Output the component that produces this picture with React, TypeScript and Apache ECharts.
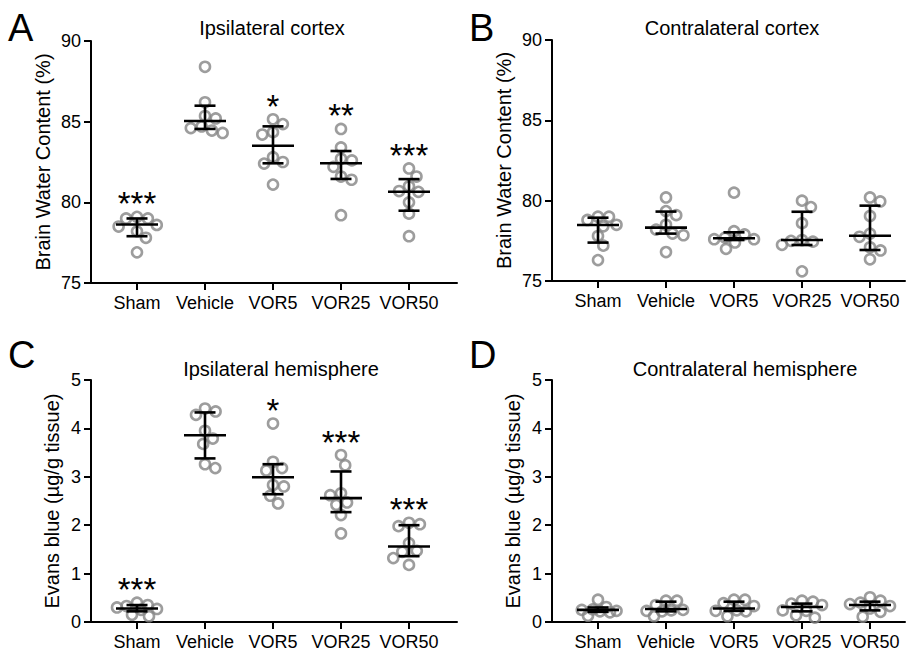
import React, { useEffect, useRef } from "react";
import * as echarts from "echarts";

const categories = ["Sham", "Vehicle", "VOR5", "VOR25", "VOR50"];

// Panel A: Ipsilateral cortex, brain water content (%)
const shamA = [79.1, 78.5, 79.0, 79.0, 78.2, 78.6, 77.8, 76.9];
const vehicleA = [88.4, 86.2, 85.2, 85.35, 84.7, 84.3, 84.45, 84.6];
const vor5A = [85.15, 84.85, 84.35, 84.2, 82.8, 82.4, 82.5, 81.1];
const vor25A = [84.55, 83.4, 82.7, 82.6, 82.2, 81.6, 81.4, 79.2];
const vor50A = [82.1, 81.6, 81.0, 80.7, 80.65, 80.0, 79.3, 77.9];
const medianA = [78.63, 85.04, 83.51, 82.42, 80.66];
const q1A = [77.9, 84.55, 82.42, 81.45, 79.48];
const q3A = [79.0, 85.99, 84.71, 83.18, 81.44];
const starsA = ["***", "", "*", "**", "***"];

// Panel B: Contralateral cortex
const shamB = [78.8, 79.0, 79.0, 78.4, 78.5, 77.8, 77.2, 76.3];
const vehicleB = [80.2, 79.1, 79.35, 78.5, 78.2, 77.95, 77.85, 76.8];
const vor5B = [80.5, 78.1, 77.9, 77.4, 77.6, 77.6, 77.7, 77.0];
const vor25B = [80.0, 79.6, 78.6, 77.55, 77.5, 77.25, 77.45, 75.6];
const vor50B = [80.2, 79.95, 79.05, 77.75, 77.95, 77.1, 76.9, 76.35];
const medianB = [78.49, 78.32, 77.66, 77.55, 77.82];
const q1B = [77.39, 77.95, 77.55, 77.24, 76.93];
const q3B = [78.94, 79.32, 78.03, 79.31, 79.69];
const starsB = ["", "", "", "", ""];

// Panel C: Ipsilateral hemisphere, Evans blue (µg/g tissue)
const shamC = [0.35, 0.33, 0.27, 0.4, 0.25, 0.3, 0.15, 0.12];
const vehicleC = [4.35, 4.41, 4.28, 3.95, 3.79, 3.68, 3.18, 3.26];
const vor5C = [4.1, 3.31, 3.18, 3.13, 2.83, 2.8, 2.61, 2.45];
const vor25C = [3.45, 3.24, 2.62, 2.66, 2.47, 2.42, 2.21, 1.83];
const vor50C = [2.05, 1.98, 2.02, 1.63, 1.47, 1.45, 1.32, 1.18];
const medianC = [0.28, 3.86, 2.99, 2.56, 1.56];
const q1C = [0.22, 3.38, 2.64, 2.27, 1.36];
const q3C = [0.35, 4.33, 3.26, 3.11, 2.0];
const starsC = ["***", "", "*", "***", "***"];

// Panel D: Contralateral hemisphere
const shamD = [0.23, 0.31, 0.25, 0.46, 0.22, 0.2, 0.26, 0.13];
const vehicleD = [0.44, 0.23, 0.22, 0.44, 0.35, 0.12, 0.25, 0.24];
const vor5D = [0.23, 0.33, 0.46, 0.46, 0.39, 0.12, 0.24, 0.22];
const vor25D = [0.35, 0.44, 0.42, 0.38, 0.09, 0.14, 0.23, 0.24];
const vor50D = [0.4, 0.51, 0.44, 0.37, 0.11, 0.28, 0.21, 0.33];
const medianD = [0.25, 0.27, 0.28, 0.31, 0.35];
const q1D = [0.21, 0.22, 0.23, 0.22, 0.24];
const q3D = [0.3, 0.42, 0.42, 0.38, 0.42];
const starsD = ["", "", "", "", ""];

const yTicksCortex = [75, 80, 85, 90];
const yTicksEvans = [0, 1, 2, 3, 4, 5];

const FONT = "'Liberation Sans', Arial, Helvetica, sans-serif";
const PT_COLOR = "#858585";
const DIAM = 11;
const MAX_OFF = 20;
const X_PX = 68; // px per category unit

type Panel = {
  letter: string;
  title: string;
  yName: string;
  groups: number[][];
  median: number[];
  q1: number[];
  q3: number[];
  stars: string[];
  yTicks: number[];
  left: number;
  top: number;
  width: number;
  height: number;
  nameGap: number;
};

const panels: Panel[] = [
  {
    letter: "A", title: "Ipsilateral cortex", yName: "Brain Water Content (%)",
    groups: [shamA, vehicleA, vor5A, vor25A, vor50A], median: medianA, q1: q1A, q3: q3A,
    stars: starsA, yTicks: yTicksCortex, left: 91, top: 41, width: 366, height: 242, nameGap: 38,
  },
  {
    letter: "B", title: "Contralateral cortex", yName: "Brain Water Content (%)",
    groups: [shamB, vehicleB, vor5B, vor25B, vor50B], median: medianB, q1: q1B, q3: q3B,
    stars: starsB, yTicks: yTicksCortex, left: 552, top: 40, width: 353, height: 241, nameGap: 38,
  },
  {
    letter: "C", title: "Ipsilateral hemisphere", yName: "Evans blue (µg/g tissue)",
    groups: [shamC, vehicleC, vor5C, vor25C, vor50C], median: medianC, q1: q1C, q3: q3C,
    stars: starsC, yTicks: yTicksEvans, left: 91, top: 380, width: 366, height: 242, nameGap: 29,
  },
  {
    letter: "D", title: "Contralateral hemisphere", yName: "Evans blue (µg/g tissue)",
    groups: [shamD, vehicleD, vor5D, vor25D, vor50D], median: medianD, q1: q1D, q3: q3D,
    stars: starsD, yTicks: yTicksEvans, left: 552, top: 380, width: 353, height: 242, nameGap: 29,
  },
];

// Beeswarm layout with a width limit: returns x offsets (px)
function swarm(values: number[], yPx: number, d: number, maxOff: number): number[] {
  const order = values.map((v, i) => i).sort((a, b) => values[b] - values[a]);
  const placed: { x: number; y: number }[] = [];
  const out = new Array(values.length).fill(0);
  let flip = 1;
  for (const i of order) {
    const y = values[i] * yPx;
    const cands: number[] = [0];
    for (const p of placed) {
      const dy = y - p.y;
      if (Math.abs(dy) < d) {
        const dx = Math.sqrt(d * d - dy * dy);
        cands.push(p.x + dx, p.x - dx);
      }
    }
    const valid = cands.filter((c) => Math.abs(c) <= maxOff + 1e-6);
    valid.sort((a, b) => {
      const diff = Math.abs(a) - Math.abs(b);
      if (Math.abs(diff) > 1e-6) return diff;
      return flip * (b - a);
    });
    let chosen: number | null = null;
    for (const c of valid) {
      let ok = true;
      for (const p of placed) {
        if (Math.hypot(c - p.x, y - p.y) < d - 1e-6) { ok = false; break; }
      }
      if (ok) { chosen = c; break; }
    }
    if (chosen === null) {
      // no free slot within the limit: take the least-crowded position
      let best = 0;
      let bestScore = -Infinity;
      for (let c = -maxOff; c <= maxOff; c += 1) {
        let minD = Infinity;
        for (const p of placed) minD = Math.min(minD, Math.hypot(c - p.x, y - p.y));
        const score = minD - Math.abs(c) * 0.001;
        if (score > bestScore) { bestScore = score; best = c; }
      }
      chosen = best;
    }
    if (Math.abs(chosen) > 1e-6) flip = -flip;
    placed.push({ x: chosen, y });
    out[i] = chosen;
  }
  return out;
}

function buildOption() {
  const grid: any[] = [];
  const xAxis: any[] = [];
  const yAxis: any[] = [];
  const series: any[] = [];
  const graphic: any[] = [];
  const letterPos = [
    { x: 8, y: 25 }, { x: 469, y: 25 }, { x: 8, y: 352 }, { x: 469, y: 352 },
  ];

  panels.forEach((p, k) => {
    const yMin = p.yTicks[0];
    const yMax = p.yTicks[p.yTicks.length - 1];
    const interval = p.yTicks[1] - p.yTicks[0];
    const xMin = -46 / X_PX;
    const xMax = xMin + p.width / X_PX;
    const yPx = p.height / (yMax - yMin);

    grid.push({ left: p.left, top: p.top, width: p.width, height: p.height, containLabel: false });
    xAxis.push({
      gridIndex: k, type: "value", min: xMin, max: xMax,
      axisLine: { show: true, onZero: false, lineStyle: { color: "#000", width: 2 } },
      axisTick: { show: true, length: 7, lineStyle: { color: "#000", width: 2 }, customValues: [0, 1, 2, 3, 4] },
      axisLabel: {
        show: true, customValues: [0, 1, 2, 3, 4], margin: 11,
        formatter: (v: number) => categories[Math.round(v)] ?? "",
        fontSize: 18, color: "#000", fontFamily: FONT,
      },
      splitLine: { show: false },
    });
    yAxis.push({
      gridIndex: k, type: "value", min: yMin, max: yMax, interval,
      name: p.yName, nameLocation: "middle", nameGap: p.nameGap, nameRotate: 90,
      nameTextStyle: { fontSize: 20, color: "#000", fontFamily: FONT },
      axisLine: { show: true, onZero: false, lineStyle: { color: "#000", width: 2 } },
      axisTick: { show: true, length: 7, lineStyle: { color: "#000", width: 2 } },
      axisLabel: { fontSize: 18, color: "#000", margin: 10, fontFamily: FONT },
      splitLine: { show: false },
    });

    const pts: number[][] = [];
    p.groups.forEach((vals, gi) => {
      const offs = swarm(vals, yPx, DIAM, MAX_OFF);
      vals.forEach((v, j) => pts.push([gi + offs[j] / X_PX, v]));
    });
    series.push({
      type: "scatter", xAxisIndex: k, yAxisIndex: k, data: pts,
      symbol: "circle", symbolSize: DIAM - 1,
      itemStyle: { color: "rgba(255,255,255,0)", borderColor: PT_COLOR, borderWidth: 2.6 },
      z: 2, silent: true,
    });
    series.push({
      type: "custom", xAxisIndex: k, yAxisIndex: k, z: 3, silent: true,
      data: p.median.map((m, i) => [i, m, p.q1[i], p.q3[i]]),
      encode: { x: 0, y: [1, 2, 3] },
      renderItem: (params: any, api: any) => {
        const x = api.value(0);
        const pm = api.coord([x, api.value(1)]);
        const pl = api.coord([x, api.value(2)]);
        const pu = api.coord([x, api.value(3)]);
        const st = { stroke: "#000", lineWidth: 2.6 };
        return {
          type: "group",
          children: [
            { type: "line", shape: { x1: pm[0] - 21, y1: pm[1], x2: pm[0] + 21, y2: pm[1] }, style: st },
            { type: "line", shape: { x1: pu[0] - 10.5, y1: pu[1], x2: pu[0] + 10.5, y2: pu[1] }, style: st },
            { type: "line", shape: { x1: pl[0] - 10.5, y1: pl[1], x2: pl[0] + 10.5, y2: pl[1] }, style: st },
            { type: "line", shape: { x1: pl[0], y1: pl[1], x2: pu[0], y2: pu[1] }, style: st },
          ],
        };
      },
    });
    const stars = p.stars;
    series.push({
      type: "custom", xAxisIndex: k, yAxisIndex: k, z: 4, silent: true,
      data: p.groups.map((vals, i) => [i, Math.max(...vals)]),
      encode: { x: 0, y: 1 },
      renderItem: (params: any, api: any) => {
        const txt = stars[params.dataIndex];
        if (!txt) return null;
        const c = api.coord([api.value(0), api.value(1)]);
        return {
          type: "text", x: c[0], y: c[1] - 13,
          style: {
            text: txt, fontSize: 33, fill: "#000", fontFamily: FONT,
            textAlign: "center", textVerticalAlign: "middle",
          },
        };
      },
    });

    graphic.push({
      type: "text", left: letterPos[k].x, top: letterPos[k].y - 16,
      style: { text: p.letter, fontSize: 38, fill: "#000", fontFamily: FONT },
    });
  });

  const titles = [
    { x: 272, y: 28 }, { x: 732, y: 28 }, { x: 281, y: 369 }, { x: 745, y: 369 },
  ];
  panels.forEach((p, k) => {
    graphic.push({
      type: "text", x: titles[k].x, y: titles[k].y,
      style: {
        text: p.title, fontSize: 20, fill: "#000", fontFamily: FONT,
        textAlign: "center", textVerticalAlign: "middle",
      },
    });
  });

  return {
    animation: false,
    backgroundColor: "#fff",
    textStyle: { fontFamily: FONT },
    grid, xAxis, yAxis, series, graphic,
  };
}

export default function App() {
  const ref = useRef<HTMLDivElement>(null);
  useEffect(() => {
    if (!ref.current) return;
    const chart = echarts.init(ref.current, undefined, { renderer: "svg" });
    chart.setOption(buildOption() as any);
    return () => chart.dispose();
  }, []);
  return <div ref={ref} style={{ width: 907, height: 654, position: "absolute", left: 0, top: 0 }} />;
}
